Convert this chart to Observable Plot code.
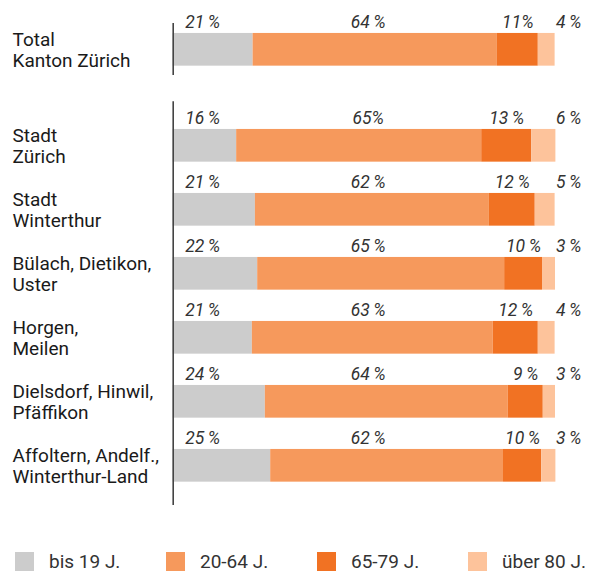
<!DOCTYPE html>
<html>
<head>
<meta charset="utf-8">
<script src="https://cdn.jsdelivr.net/npm/d3@7"></script>
<script src="https://cdn.jsdelivr.net/npm/@observablehq/plot@0.6"></script>
<style>
  html, body { margin: 0; padding: 0; background: #ffffff; }
  #chart { position: relative; width: 593px; height: 574px; overflow: hidden; font-family: Roboto, "Liberation Sans", sans-serif; }
  #chart > svg { position: absolute; left: 0; top: 0; }
  #legend { position: absolute; left: 15px; top: 552px; }
  #legend .leg-swatches-wrap { display: flex !important; flex-wrap: nowrap !important; align-items: center !important; min-height: 19px !important; margin: 0 !important; }
  #legend .leg-swatches { margin: 0 !important; font-family: Roboto, "Liberation Sans", sans-serif !important; font-size: 19px !important; color: #333333 !important; }
  #legend .leg-swatch { width: 151px !important; margin-right: 0 !important; line-height: 19px !important; height: 19px !important; white-space: nowrap; }
  #legend .leg-swatch > svg { margin-right: 15px !important; }
</style>
</head>
<body>
<div id="chart"><div id="legend"></div></div>
<script>
// ---- data ----
const regions = [
  "Total\nKanton Zürich",
  "Stadt\nZürich",
  "Stadt\nWinterthur",
  "Bülach, Dietikon,\nUster",
  "Horgen,\nMeilen",
  "Dielsdorf, Hinwil,\nPfäffikon",
  "Affoltern, Andelf.,\nWinterthur-Land"
];
const groups = ["bis 19 J.", "20-64 J.", "65-79 J.", "über 80 J."];
const colors = ["#cccccc", "#f6995c", "#f17223", "#fdc39b"];

// bar values (share in %)
const bis19    = [20.9, 16.6, 21.5, 22.1, 20.7, 24.1, 25.5];
const age20_64 = [63.9, 64.1, 61.2, 64.6, 63.0, 63.5, 60.9];
const age65_79 = [10.7, 13.1, 12.0,  9.9, 11.8,  9.2, 10.0];
const ueber80  = [ 4.4,  6.3,  5.2,  3.4,  4.4,  3.2,  3.7];

// printed labels
const lab19    = ["21\u2009%", "16\u2009%", "21\u2009%", "22\u2009%", "21\u2009%", "24\u2009%", "25\u2009%"];
const lab20_64 = ["64\u2009%", "65%", "62\u2009%", "65\u2009%", "63\u2009%", "64\u2009%", "62\u2009%"];
const lab65_79 = ["11%", "13\u2009%", "12\u2009%", "10\u2009%", "12\u2009%", "9\u2009%", "10\u2009%"];
const lab80    = ["4\u2009%", "6\u2009%", "5\u2009%", "3\u2009%", "4\u2009%", "3\u2009%", "3\u2009%"];

// ---- layout helpers (derived) ----
const series = [bis19, age20_64, age65_79, ueber80];
const labels = [lab19, lab20_64, lab65_79, lab80];
const pos = regions.map((r, i) => (i === 0 ? 0 : i + 0.5)); // gap after total
const half = 0.2555;

const segs = [];
regions.forEach((r, i) => {
  let acc = 0;
  groups.forEach((g, j) => {
    const v = series[j][i];
    segs.push({region: r, group: g, x1: acc, x2: acc + v, mid: acc + v / 2, pos: pos[i], label: labels[j][i], k: j});
    acc += v;
  });
});

const rules = [
  {y1: pos[0] - 0.41, y2: pos[0] + 0.40},
  {y1: pos[1] - 0.69, y2: pos[pos.length - 1] + 0.62}
];

const rowData = regions.map((r, i) => ({region: r, pos: pos[i]}));

const labStyle = {dy: -5, lineAnchor: "bottom", fontSize: 17.5, fontStyle: "italic", fill: "#333333"};

const plot = Plot.plot({
  width: 593,
  height: 520,
  x: {domain: [0, 100], range: [172.7, 555], axis: null},
  y: {domain: [0, 6.5], range: [49.3, 465.3], axis: null},
  color: {domain: groups, range: colors},
  style: {fontFamily: "Roboto, 'Liberation Sans', sans-serif", background: "#ffffff", overflow: "visible"},
  marks: [
    Plot.rectX(segs, {x1: "x1", x2: "x2", y1: d => d.pos - half, y2: d => d.pos + half, fill: "group"}),
    Plot.ruleX(rules, {x: () => 0, y1: "y1", y2: "y2", stroke: "#444444", strokeWidth: 1.6}),
    Plot.text(rowData, {x: () => 0, y: "pos", text: "region", textAnchor: "start", dx: -160.7, lineAnchor: "middle", lineHeight: 1.1, fontSize: 19, fill: "#1a1a1a"}),
    // percent labels
    Plot.text(segs.filter(d => d.k === 0), {x: () => 0, y: d => d.pos - half, text: "label", textAnchor: "start", dx: 12, ...labStyle}),
    Plot.text(segs.filter(d => d.k === 1), {x: () => 51, y: d => d.pos - half, text: "label", textAnchor: "middle", ...labStyle}),
    Plot.text(segs.filter(d => d.k === 2), {x: "mid", y: d => d.pos - half, text: "label", textAnchor: "middle", ...labStyle}),
    Plot.text(segs.filter(d => d.k === 3), {x: () => 100, y: d => d.pos - half, text: "label", textAnchor: "end", dx: 26, ...labStyle})
  ]
});
document.getElementById("chart").prepend(plot);

const legend = Plot.legend({
  color: {domain: groups, range: colors},
  legend: "swatches",
  swatchSize: 19,
  className: "leg"
});
document.getElementById("legend").appendChild(legend);
</script>
</body>
</html>
